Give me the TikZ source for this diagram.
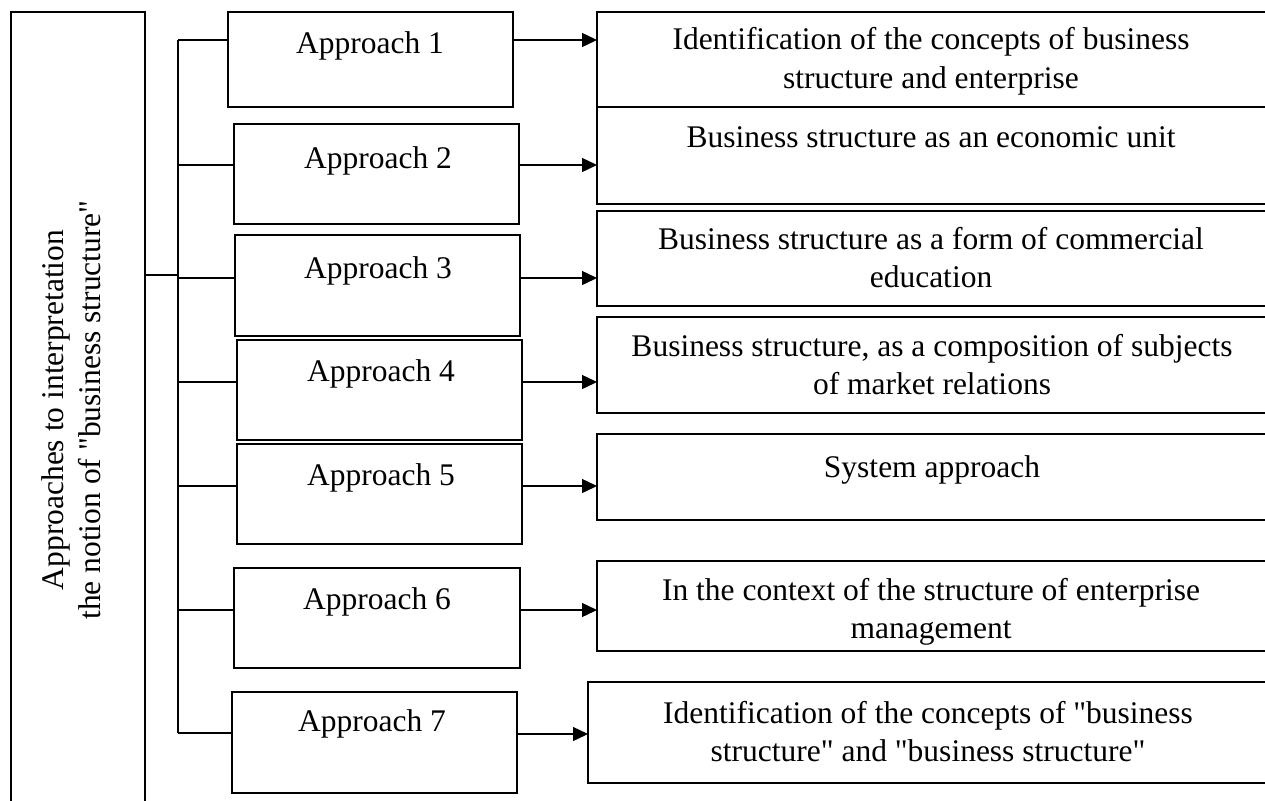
\documentclass[tikz,border=0pt]{standalone}
\usepackage{fontspec}
\setmainfont{Liberation Serif}[Ligatures=TeXOff]
\usetikzlibrary{arrows.meta}
\begin{document}
\begin{tikzpicture}[x=1pt,y=-1pt,
  box/.style={draw, line width=1.4pt, inner sep=0pt, outer sep=0pt, anchor=north west},
  lbl/.style={anchor=base, inner sep=0pt, outer sep=0pt, font=\fontsize{31.5}{38}\selectfont},
  conn/.style={line width=1.4pt},
  arr/.style={line width=1.4pt, -{Triangle[length=15pt,width=14pt]}}]
\useasboundingbox (0,0) rectangle (1265,800);
\fill[white] (0,0) rectangle (1265,800);
% left box
\node[box, minimum width=134pt, minimum height=795pt] (L) at (11,12) {};
\node[lbl, rotate=90] (Lt1) at (63,410) {Approaches to interpretation};
\node[lbl, rotate=90] (Lt2) at (100,410) {the notion of "business structure"};
% approach boxes
\node[box, minimum width=285pt, minimum height=95pt]  (a1) at (228,12) {};
\node[box, minimum width=285pt, minimum height=100pt] (a2) at (234,124) {};
\node[box, minimum width=285pt, minimum height=101pt] (a3) at (235,235) {};
\node[box, minimum width=285pt, minimum height=100pt] (a4) at (237,340) {};
\node[box, minimum width=285pt, minimum height=100pt] (a5) at (237,444) {};
\node[box, minimum width=286pt, minimum height=100pt] (a6) at (234,568) {};
\node[box, minimum width=285pt, minimum height=101pt] (a7) at (232,692) {};
\node[lbl] (a1t) at (370,53) {Approach 1};
\node[lbl] (a2t) at (378,168) {Approach 2};
\node[lbl] (a3t) at (378,278) {Approach 3};
\node[lbl] (a4t) at (381,381) {Approach 4};
\node[lbl] (a5t) at (381,485) {Approach 5};
\node[lbl] (a6t) at (377,609) {Approach 6};
\node[lbl] (a7t) at (372,731) {Approach 7};
% right boxes
\node[box, minimum width=678pt, minimum height=95pt]  (r1) at (597,12) {};
\node[box, minimum width=678pt, minimum height=97pt]  (r2) at (597,107) {};
\node[box, minimum width=678pt, minimum height=95pt]  (r3) at (597,211) {};
\node[box, minimum width=678pt, minimum height=96pt]  (r4) at (597,317) {};
\node[box, minimum width=678pt, minimum height=86pt]  (r5) at (597,434) {};
\node[box, minimum width=678pt, minimum height=90pt]  (r6) at (597,561) {};
\node[box, minimum width=687pt, minimum height=101pt] (r7) at (588,682) {};
\node[lbl] (r1t) at (931,50) {Identification of the concepts of business};
\node[lbl] (r1u) at (931,88) {structure and enterprise};
\node[lbl] (r2t) at (931,147) {Business structure as an economic unit};
\node[lbl] (r3t) at (931,249) {Business structure as a form of commercial};
\node[lbl] (r3u) at (931,287) {education};
\node[lbl] (r4t) at (932,356) {Business structure, as a composition of subjects};
\node[lbl] (r4u) at (932,394) {of market relations};
\node[lbl] (r5t) at (932,477) {System approach};
\node[lbl] (r6t) at (931,600) {In the context of the structure of enterprise};
\node[lbl] (r6u) at (931,638) {management};
\node[lbl] (r7t) at (928,723) {Identification of the concepts of "business};
\node[lbl] (r7u) at (928,761) {structure" and "business structure"};
% trunk
\coordinate (tL) at (178,275);
\coordinate (t1) at (178,40);
\coordinate (t2) at (178,165);
\coordinate (t3) at (178,278);
\coordinate (t4) at (178,382);
\coordinate (t5) at (178,486);
\coordinate (t6) at (178,610);
\coordinate (t7) at (178,733);
\draw[conn] (L.east |- tL) -- (tL);
\draw[conn] (t1) -- (t7);
\foreach \i in {1,...,7} {
  \draw[conn] (t\i) -- (a\i.west |- t\i);
}
% arrows
\coordinate (y1) at (0,40);
\coordinate (y2) at (0,165);
\coordinate (y3) at (0,278);
\coordinate (y4) at (0,382);
\coordinate (y5) at (0,486);
\coordinate (y6) at (0,610);
\coordinate (y7) at (0,734);
\foreach \i in {1,...,7} {
  \draw[arr] (a\i.east |- y\i) -- (r\i.west |- y\i);
}
\end{tikzpicture}
\end{document}
